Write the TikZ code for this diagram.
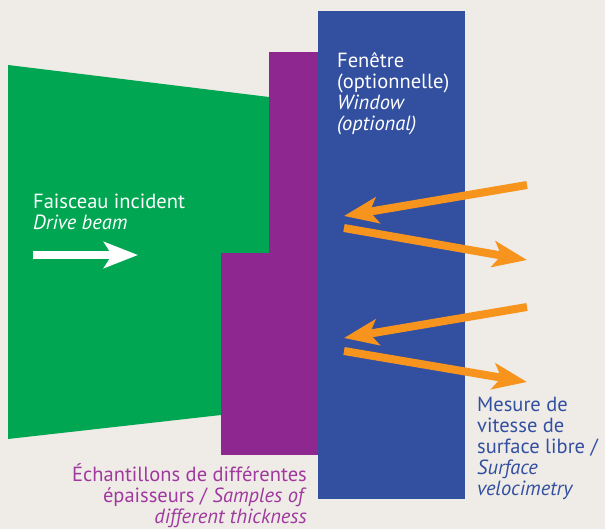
\documentclass[tikz,border=0pt]{standalone}
\usepackage{fontspec}
\setmainfont{PT Sans}
\usetikzlibrary{arrows.meta}
\definecolor{paper}{HTML}{EFEBE7}
\definecolor{beamgreen}{HTML}{00A651}
\definecolor{samplepurple}{HTML}{8E278F}
\definecolor{windowblue}{HTML}{334FA0}
\definecolor{laserorange}{HTML}{F7941D}
\definecolor{labelpurple}{HTML}{A0399E}

\begin{document}
\begin{tikzpicture}[x=1pt,y=-1pt,
  every node/.style={inner sep=0pt,font=\fontsize{20.5}{21}\selectfont},
  beamarrow/.style={line width=8pt,-{Stealth[length=34pt,width=26pt,inset=8pt]}},
  probe/.style={beamarrow,draw=laserorange}]
  \useasboundingbox (0,0) rectangle (605,529);
  \fill[paper] (0,0) rectangle (605,529);
  % drive beam
  \fill[beamgreen] (8,65) -- (269,97) -- (269,253) -- (221,253) -- (221,415) -- (8,439) -- cycle;
  % samples of two thicknesses
  \fill[samplepurple] (269,52) rectangle (318,253);
  \fill[samplepurple] (221,253) rectangle (318,455);
  % window
  \fill[windowblue] (318,11) rectangle (465,499);
  % labels (base = last line)
  \node[anchor=base west,align=left,text=white] (beamlabel) at (33,230) {Faisceau incident\\\textit{Drive beam}};
  \node[anchor=base west,align=left,text=white] (windowlabel) at (337,131) {Fenêtre\\(optionnelle)\\\textit{Window}\\\textit{(optional)}};
  \node[anchor=base west,align=left,text=windowblue] (velolabel) at (477,495) {Mesure de\\vitesse de\\surface libre /\\\textit{Surface}\\\textit{velocimetry}};
  \node[anchor=base east,align=right,text=labelpurple] (samplelabel) at (307,523) {Échantillons de différentes\\épaisseurs / \textit{Samples of}\\\textit{different thickness}};
  % arrows
  \coordinate (beamstart) at (33,255);
  \coordinate (beamtip) at (138,255);
  \coordinate (inA) at (527,185);
  \coordinate (hitA) at (344,216);
  \coordinate (backA) at (344,228);
  \coordinate (outA) at (527,260);
  \coordinate (inB) at (527,307);
  \coordinate (hitB) at (344,338);
  \coordinate (backB) at (344,351);
  \coordinate (outB) at (527,382);
  \draw[beamarrow,draw=white] (beamstart) -- (beamtip);
  \draw[probe] (inA) -- (hitA);
  \draw[probe] (backA) -- (outA);
  \draw[probe] (inB) -- (hitB);
  \draw[probe] (backB) -- (outB);
\end{tikzpicture}
\end{document}
